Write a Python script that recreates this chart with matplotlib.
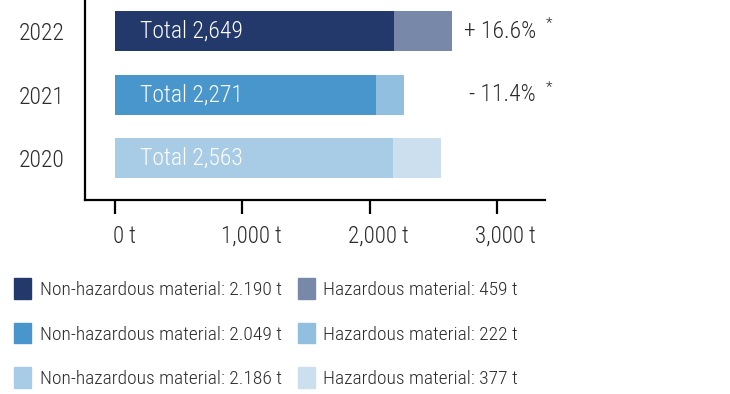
import matplotlib.pyplot as plt
import numpy as np
from matplotlib.patches import Patch
from matplotlib.transforms import ScaledTranslation

# Waste volumes per year (t)
years = ["2020", "2021", "2022"]
non_hazardous = [2186, 2049, 2190]
hazardous = [377, 222, 459]
totals = ["2,563", "2,271", "2,649"]
changes = ["", "- 11.4%", "+ 16.6%"]

col_non = ["#a9cce6", "#4896cc", "#23396b"]
col_haz = ["#cbdfee", "#90bfe0", "#7888a8"]
text_col = "#2b2b2b"

plt.rcParams["font.family"] = ["Roboto Condensed", "Lato", "DejaVu Sans"]
plt.rcParams["font.weight"] = 300

fig = plt.figure(figsize=(7.3, 3.94), dpi=100)
ax = fig.add_axes([0.1164, 0.4924, 0.63, 0.5076])

y = np.arange(len(years))
h = 0.63
ax.barh(y, non_hazardous, h, color=col_non)
ax.barh(y, hazardous, h, left=non_hazardous, color=col_haz)

# Totals inside the bars
for i, t in enumerate(totals):
    ax.text(196, y[i], "Total " + t, color="white", fontsize=17,
            va="center", ha="left")

# Year-on-year change next to the bars
for i, c in enumerate(changes):
    if c:
        ax.text(3307, y[i], c, color=text_col, fontsize=17, va="center", ha="right")
        ax.text(3409, y[i] + 0.12, "*", color=text_col, fontsize=11, va="center", ha="center")

ax.set_xlim(-236, 3378)
ax.set_ylim(-0.66, 2.49)
ax.set_xticks([0, 1000, 2000, 3000])
ax.set_xticklabels(["0 t", "1,000 t", "2,000 t", "3,000 t"], fontsize=16.5, color=text_col)
ax.set_yticks(y)
ax.set_yticklabels(years, fontsize=17, color=text_col)
ax.tick_params(axis="x", length=10, width=1.6, pad=8)
ax.tick_params(axis="y", length=0, pad=15)
# number sits over the tick, unit trails to the right
shift = ScaledTranslation(0.09, 0, fig.dpi_scale_trans)
for lab in ax.get_xticklabels():
    lab.set_transform(lab.get_transform() + shift)
for s in ["top", "right"]:
    ax.spines[s].set_visible(False)
for s in ["left", "bottom"]:
    ax.spines[s].set_linewidth(1.6)

# Legend in two columns: non-hazardous left, hazardous right
non_handles = [Patch(color=col_non[i]) for i in [2, 1, 0]]
non_labels = [f"Non-hazardous material: {non_hazardous[i] / 1000:.3f} t" for i in [2, 1, 0]]
haz_handles = [Patch(color=col_haz[i]) for i in [2, 1, 0]]
haz_labels = [f"Hazardous material: {hazardous[i]} t" for i in [2, 1, 0]]

leg_kw = dict(frameon=False, loc="upper left", fontsize=14, labelcolor=text_col,
              handlelength=0.88, handleheight=1.24, handletextpad=0.45,
              labelspacing=1.22, borderaxespad=0)
fig.legend(non_handles, non_labels, bbox_to_anchor=(0.009, 0.313), **leg_kw)
fig.legend(haz_handles, haz_labels, bbox_to_anchor=(0.397, 0.313), **leg_kw)

fig.savefig("out.png", dpi=100)
